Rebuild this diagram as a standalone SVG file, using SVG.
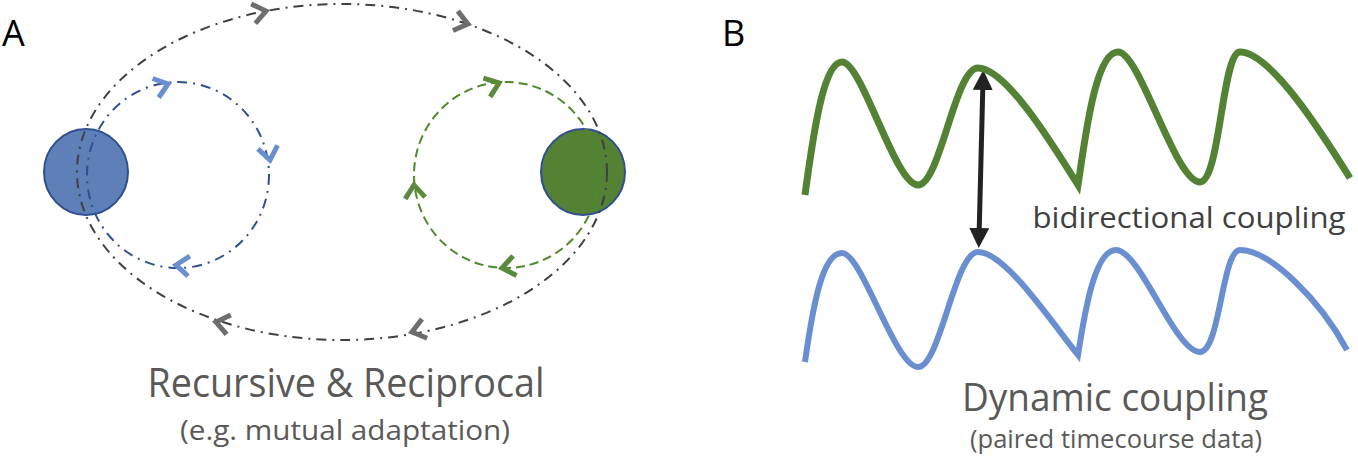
<svg xmlns="http://www.w3.org/2000/svg" width="1358" height="456" viewBox="0 0 1358 456">
<style>
.t{font-family:"Open Sans","Liberation Sans",sans-serif;fill:#595959;text-anchor:middle}
.lbl{font-family:"Open Sans","Liberation Sans",sans-serif;fill:#000;font-size:36px}
.ch{fill:none;stroke-width:5;stroke-linecap:butt;stroke-linejoin:miter}
</style>
<defs>
<path id="chev" d="M-13,-10 L0,0 L-13,10"/>
<marker id="ah" viewBox="0 0 10 10" refX="5" refY="5" markerWidth="4" markerHeight="4" orient="auto-start-reverse"><path d="M0,0 L10,5 L0,10 Z" fill="#222"/></marker>
</defs>
<rect width="1358" height="456" fill="#fff"/>
<text class="lbl" x="2" y="46">A</text>
<text class="lbl" x="722" y="46">B</text>
<g id="nodeBlue"><ellipse cx="86" cy="172" rx="42" ry="43" fill="#5e7fb8" stroke="#2f4f90" stroke-width="2"/></g>
<g id="nodeGreen"><ellipse cx="583" cy="172" rx="42" ry="43" fill="#548235" stroke="#2f4f90" stroke-width="2"/></g>
<g id="connectors">
<ellipse cx="342" cy="172" rx="265" ry="168" fill="none" stroke="#404040" stroke-width="2" stroke-dasharray="10,6,2,6"/>
<ellipse cx="178" cy="175" rx="91" ry="93" fill="none" stroke="#2f4f90" stroke-width="2" stroke-dasharray="10,6,2,6"/>
<ellipse cx="506" cy="175" rx="92" ry="93" fill="none" stroke="#4f8a2a" stroke-width="2" stroke-dasharray="9,5"/>
<g class="ch" stroke="#6d6d6d">
<use href="#chev" transform="translate(266,11) rotate(-12)"/>
<use href="#chev" transform="translate(468,24) rotate(14)"/>
<use href="#chev" transform="translate(216,322) rotate(192)"/>
<use href="#chev" transform="translate(412,332) rotate(165)"/>
</g>
<g class="ch" stroke="#6a8fd0">
<use href="#chev" transform="translate(168,84) rotate(-18)"/>
<use href="#chev" transform="translate(270,160) rotate(80)"/>
<use href="#chev" transform="translate(176,265) rotate(185)"/>
</g>
<g class="ch" stroke="#5a8a3a">
<use href="#chev" transform="translate(499,83) rotate(-20)"/>
<use href="#chev" transform="translate(414,185) rotate(-95)"/>
<use href="#chev" transform="translate(502,268) rotate(170)"/>
</g>
<line x1="983" y1="80" x2="979" y2="238" stroke="#222" stroke-width="5" marker-start="url(#ah)" marker-end="url(#ah)"/>
</g>
<g id="waveGreen"><path d="M805,195 C815,120 825,62 842,62 C862,62 895,185 918,185 C940,185 955,68 978,68 C1005,68 1050,140 1078,185 C1085,140 1095,52 1118,52 C1140,52 1175,182 1200,182 C1220,182 1222,52 1240,52 C1270,52 1320,130 1350,178" fill="none" stroke="#548235" stroke-width="7"/></g>
<g id="waveBlue"><path d="M805,362 C815,290 825,253 842,253 C862,253 895,367 918,367 C940,367 955,252 978,252 C1005,252 1050,320 1078,355 C1085,310 1095,250 1116,250 C1140,250 1175,352 1200,352 C1220,352 1222,250 1240,250 C1270,250 1320,300 1347,350" fill="none" stroke="#6a8fd0" stroke-width="6"/></g>
<text class="t" x="346" y="397" font-size="40" textLength="397" lengthAdjust="spacingAndGlyphs">Recursive &amp; Reciprocal</text>
<text class="t" x="345" y="440" font-size="28" textLength="330" lengthAdjust="spacingAndGlyphs">(e.g. mutual adaptation)</text>
<text class="t" x="1115" y="411" font-size="38" textLength="306" lengthAdjust="spacingAndGlyphs">Dynamic coupling</text>
<text class="t" x="1116" y="448" font-size="26" textLength="292" lengthAdjust="spacingAndGlyphs">(paired timecourse data)</text>
<text class="t" x="1189" y="228" font-size="30" style="fill:#404040" textLength="313" lengthAdjust="spacingAndGlyphs">bidirectional coupling</text>
</svg>
